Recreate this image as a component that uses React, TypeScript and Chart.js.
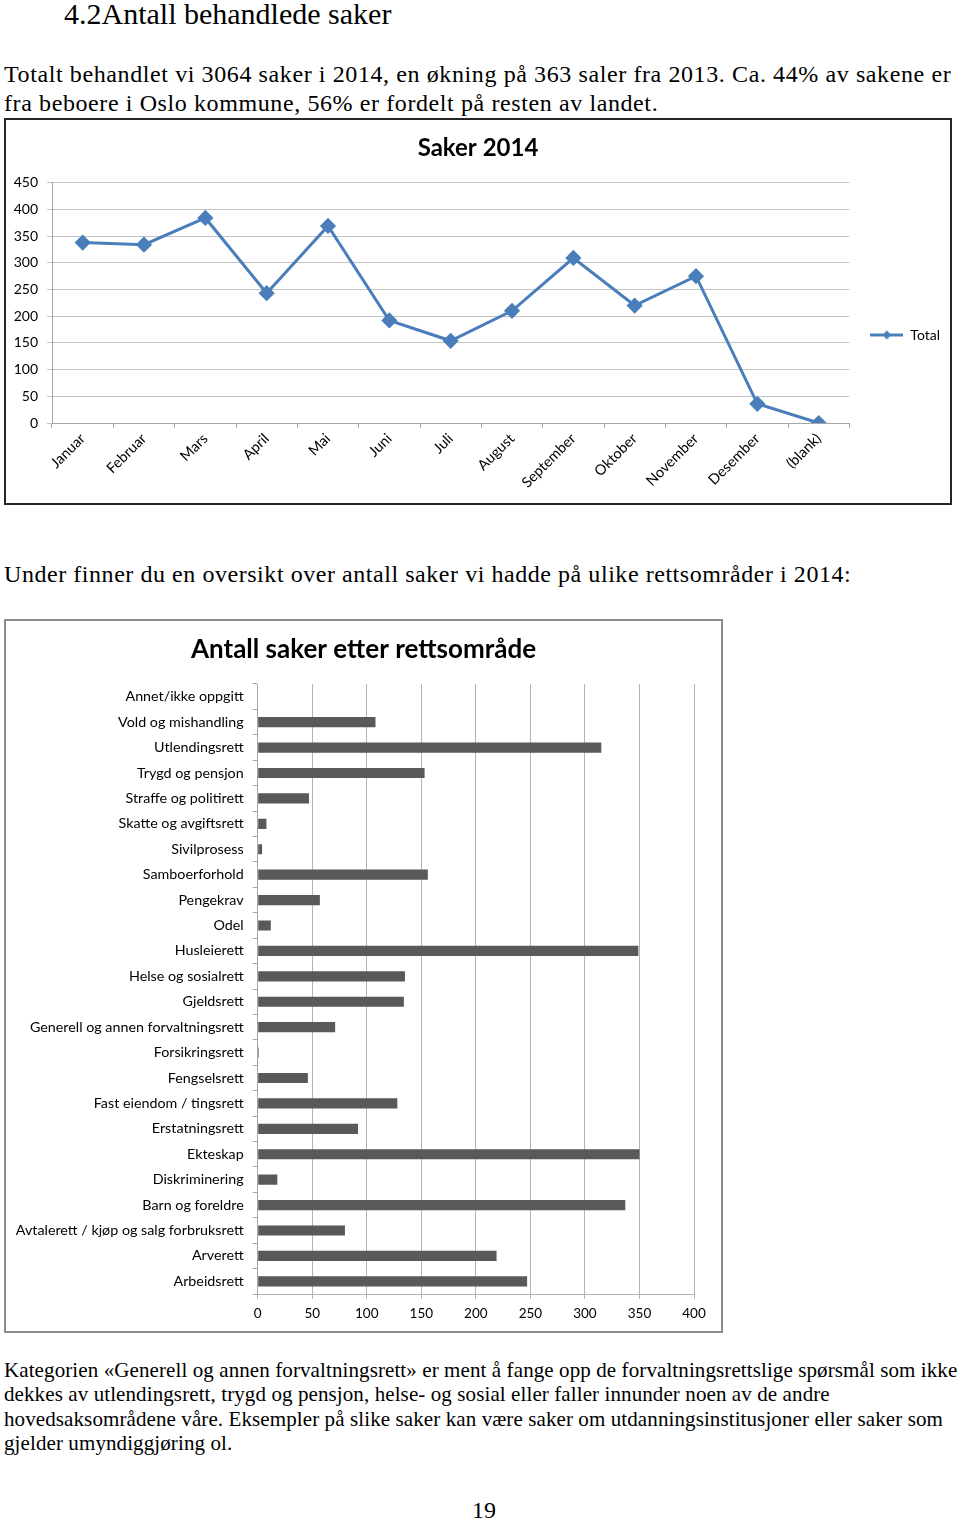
import React, { useEffect, useRef } from "react";
import { Chart, registerables } from "chart.js";

Chart.register(...registerables);

// ---------- Data ----------
const months = [
  "Januar", "Februar", "Mars", "April", "Mai", "Juni", "Juli",
  "August", "September", "Oktober", "November", "Desember", "(blank)",
];
const monthTotals = [338, 334, 384, 243, 369, 192, 154, 210, 309, 220, 275, 36, 0];
const lineSeriesName = "Total";
const lineTitle = "Saker 2014";

const areas = [
  "Annet/ikke oppgitt",
  "Vold og mishandling",
  "Utlendingsrett",
  "Trygd og pensjon",
  "Straffe og politirett",
  "Skatte og avgiftsrett",
  "Sivilprosess",
  "Samboerforhold",
  "Pengekrav",
  "Odel",
  "Husleierett",
  "Helse og sosialrett",
  "Gjeldsrett",
  "Generell og annen forvaltningsrett",
  "Forsikringsrett",
  "Fengselsrett",
  "Fast eiendom / tingsrett",
  "Erstatningsrett",
  "Ekteskap",
  "Diskriminering",
  "Barn og foreldre",
  "Avtalerett / kjøp og salg forbruksrett",
  "Arverett",
  "Arbeidsrett",
];
const areaCounts = [0, 108, 315, 153, 47, 8, 4, 156, 57, 12, 349, 135, 134, 71, 1, 46, 128, 92, 350, 18, 337, 80, 219, 247];
const barTitle = "Antall saker etter rettsområde";

const CHART_FONT = "Lato, 'Open Sans', sans-serif";
const SERIF = "'Liberation Serif', 'Times New Roman', serif";
const LINE_BLUE = "#4a7ebb";

function makeLegendImage(): HTMLCanvasElement {
  const c = document.createElement("canvas");
  c.width = 33;
  c.height = 13;
  const ctx = c.getContext("2d")!;
  ctx.strokeStyle = LINE_BLUE;
  ctx.lineWidth = 3;
  ctx.beginPath();
  ctx.moveTo(0, 6.5);
  ctx.lineTo(33, 6.5);
  ctx.stroke();
  ctx.fillStyle = LINE_BLUE;
  ctx.beginPath();
  ctx.moveTo(16.5, 2);
  ctx.lineTo(21, 6.5);
  ctx.lineTo(16.5, 11);
  ctx.lineTo(12, 6.5);
  ctx.closePath();
  ctx.fill();
  return c;
}

function LineChart() {
  const ref = useRef<HTMLCanvasElement>(null);
  useEffect(() => {
    if (!ref.current) return;
    const legendImg = makeLegendImage();
    const chart = new Chart(ref.current, {
      type: "line",
      data: {
        labels: months,
        datasets: [
          {
            label: lineSeriesName,
            data: monthTotals,
            borderColor: LINE_BLUE,
            backgroundColor: LINE_BLUE,
            borderWidth: 3,
            pointStyle: "rectRot",
            pointRadius: 6,
            pointBackgroundColor: LINE_BLUE,
            pointBorderColor: LINE_BLUE,
            tension: 0,
          },
        ],
      },
      options: {
        animation: false,
        responsive: false,
        maintainAspectRatio: false,
        layout: { padding: { left: 0, right: 0, top: 0, bottom: 0 } },
        plugins: {
          title: {
            display: true,
            text: lineTitle,
            color: "#000",
            font: { family: CHART_FONT, size: 24, weight: "bold" },
            padding: { top: 13.6, bottom: 20.3 },
          },
          legend: {
            position: "right",
            title: { display: true, text: "", font: { size: 10 }, padding: { top: 35, bottom: 0 } },
            labels: {
              usePointStyle: true,
              pointStyleWidth: 33,
              padding: 21,
              color: "#000",
              font: { family: CHART_FONT, size: 14 },
              generateLabels: () => [
                {
                  text: lineSeriesName,
                  pointStyle: legendImg as any,
                  fillStyle: LINE_BLUE,
                  strokeStyle: LINE_BLUE,
                  lineWidth: 0,
                  hidden: false,
                  datasetIndex: 0,
                  fontColor: "#000",
                },
              ],
            },
          },
          tooltip: { enabled: false },
        },
        scales: {
          x: {
            offset: true,
            grid: { offset: true, drawOnChartArea: false, tickLength: 5, color: "#a6a6a6" },
            border: { color: "#a6a6a6" },
            ticks: {
              autoSkip: false,
              minRotation: 45,
              maxRotation: 45,
              color: "#000",
              padding: 2,
              font: { family: CHART_FONT, size: 14.5 },
            },
            afterFit: (s: any) => {
              s.height = 80;
            },
          },
          y: {
            min: 0,
            max: 450,
            ticks: { stepSize: 50, color: "#000", padding: 9, font: { family: CHART_FONT, size: 14 } },
            grid: { color: "#c4c4c4", tickLength: 5 },
            border: { color: "#a6a6a6" },
            afterFit: (s: any) => {
              s.width = 46;
            },
          },
        },
      },
    });
    return () => chart.destroy();
  }, []);
  return <canvas ref={ref} width={944} height={383} style={{ display: "block", width: 944, height: 383 }} />;
}

function BarChart() {
  const ref = useRef<HTMLCanvasElement>(null);
  useEffect(() => {
    if (!ref.current) return;
    const chart = new Chart(ref.current, {
      type: "bar",
      data: {
        labels: areas,
        datasets: [
          {
            label: "Antall",
            data: areaCounts,
            backgroundColor: "#595959",
            barPercentage: 0.4,
            categoryPercentage: 1,
          },
        ],
      },
      options: {
        indexAxis: "y",
        animation: false,
        responsive: false,
        maintainAspectRatio: false,
        layout: { padding: { left: 0, right: 0, top: 0, bottom: 0 } },
        plugins: {
          title: {
            display: true,
            text: barTitle,
            color: "#000",
            font: { family: CHART_FONT, size: 26, weight: "bold" },
            padding: { top: 13.4, bottom: 18.4 },
          },
          legend: { display: false },
          tooltip: { enabled: false },
        },
        scales: {
          x: {
            min: 0,
            max: 400,
            ticks: { stepSize: 50, color: "#000", padding: 7, font: { family: CHART_FONT, size: 13.5 } },
            grid: { color: "#b4b4b4", tickLength: 5 },
            border: { color: "#b4b4b4" },
            afterFit: (s: any) => {
              s.height = 37;
            },
          },
          y: {
            grid: { offset: true, drawOnChartArea: false, tickLength: 5, color: "#a6a6a6" },
            border: { color: "#a6a6a6" },
            ticks: { autoSkip: false, color: "#000", padding: 9, font: { family: CHART_FONT, size: 14.3 } },
            afterFit: (s: any) => {
              s.width = 251.7;
            },
          },
          // empty spacer on the right side of the plot area
          yRight: {
            type: "linear",
            position: "right",
            display: true,
            grid: { display: false, drawTicks: false },
            border: { display: false },
            ticks: { display: false },
            afterFit: (s: any) => {
              s.width = 27;
            },
          },
        },
      },
    });
    return () => chart.destroy();
  }, []);
  return <canvas ref={ref} width={715} height={710} style={{ display: "block", width: 715, height: 710 }} />;
}

function Line({ x, baseline, size, children, spacing }: any) {
  return (
    <div
      style={{
        position: "absolute",
        left: x,
        top: baseline - 0.8375 * size,
        fontFamily: SERIF,
        fontSize: size,
        lineHeight: `${size}px`,
        whiteSpace: "nowrap",
        color: "#000",
        letterSpacing: spacing ? `${spacing}px` : undefined,
      }}
    >
      {children}
    </div>
  );
}

export default function App() {
  return (
    <div style={{ position: "absolute", left: 0, top: 0, width: 960, height: 1521, background: "#fff", overflow: "hidden" }}>
      <Line x={64} baseline={24} size={30}>4.2Antall behandlede saker</Line>
      <Line x={4} baseline={82} size={24} spacing={0.6}>
        Totalt behandlet vi 3064 saker i 2014, en økning på 363 saler fra 2013. Ca. 44% av sakene er
      </Line>
      <Line x={4} baseline={111} size={24} spacing={0.6}>
        fra beboere i Oslo kommune, 56% er fordelt på resten av landet.
      </Line>

      <div
        style={{
          position: "absolute",
          left: 4,
          top: 118,
          width: 948,
          height: 387,
          border: "2px solid #262626",
          boxSizing: "border-box",
          background: "#fff",
        }}
      >
        <LineChart />
      </div>

      <Line x={4} baseline={582.5} size={24} spacing={0.55}>
        Under finner du en oversikt over antall saker vi hadde på ulike rettsområder i 2014:
      </Line>

      <div
        style={{
          position: "absolute",
          left: 4,
          top: 619,
          width: 719,
          height: 714,
          border: "2px solid #8c8c8c",
          boxSizing: "border-box",
          background: "#fff",
        }}
      >
        <BarChart />
      </div>

      <Line x={4} baseline={1377.5} size={21} spacing={0.1}>
        Kategorien «Generell og annen forvaltningsrett» er ment å fange opp de forvaltningsrettslige spørsmål som ikke
      </Line>
      <Line x={4} baseline={1402} size={21} spacing={0.1}>
        dekkes av utlendingsrett, trygd og pensjon, helse- og sosial eller faller innunder noen av de andre
      </Line>
      <Line x={4} baseline={1426.5} size={21} spacing={0.1}>
        hovedsaksområdene våre. Eksempler på slike saker kan være saker om utdanningsinstitusjoner eller saker som
      </Line>
      <Line x={4} baseline={1451} size={21} spacing={0.1}>
        gjelder umyndiggjøring ol.
      </Line>

      <Line x={472} baseline={1518} size={24}>19</Line>
    </div>
  );
}
